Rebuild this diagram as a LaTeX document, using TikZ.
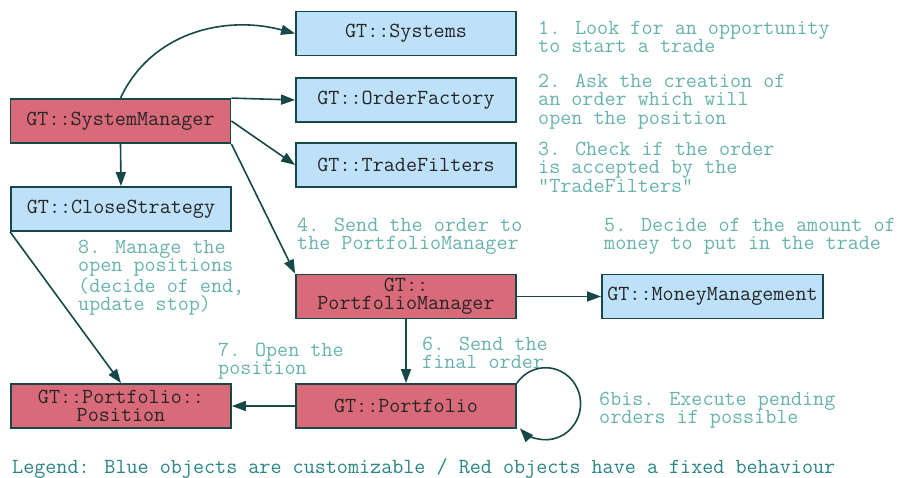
\documentclass[tikz,border=0pt]{standalone}
\usepackage{fontspec}
\usepackage{xcolor}
\usepackage{tikz}
\usetikzlibrary{arrows.meta}

\definecolor{fixedred}{HTML}{D96A7A}
\definecolor{custblue}{HTML}{BEE1FA}
\definecolor{edgeteal}{HTML}{164848}
\definecolor{noteteal}{HTML}{68B2AE}
\definecolor{legendteal}{HTML}{2A8484}

\tikzset{
  gtfont/.style={font=\ttfamily\fontsize{21.5}{18.3}\selectfont},
  gtbox/.style={gtfont,draw=edgeteal,line width=1.8pt,minimum width=220pt,minimum height=44pt,inner sep=0pt,align=center,text=black!85},
  redbox/.style={gtbox,fill=fixedred},
  bluebox/.style={gtbox,fill=custblue},
  note/.style={gtfont,text=noteteal,align=left,anchor=north west,inner sep=0pt},
  flow/.style={-{Triangle[length=14pt,width=10pt]},color=edgeteal,line width=1.6pt},
}

\begin{document}
\begin{tikzpicture}[x=1pt,y=1pt]
\useasboundingbox (0,0) rectangle (901,477);

\node[redbox] (sysmgr) at (120.5,356) {GT::SystemManager};
\node[bluebox] (systems) at (406,443.5) {GT::Systems};
\node[bluebox] (orderfac) at (406,377) {GT::OrderFactory};
\node[bluebox] (tradefil) at (406,312) {GT::TradeFilters};
\node[bluebox] (closestrat) at (121,268) {GT::CloseStrategy};
\node[redbox] (portmgr) at (406,180.5) {GT::\\PortfolioManager};
\node[bluebox,minimum width=221pt] (moneymgt) at (712.5,180.5) {GT::MoneyManagement};
\node[redbox] (portfolio) at (406,71) {GT::Portfolio};
\node[redbox] (position) at (121,71) {GT::Portfolio::\\Position};

\path[flow] (sysmgr.north) edge[out=65,in=165] (systems.west);
\path[flow] (sysmgr.north east) edge (orderfac.west);
\path[flow] (sysmgr.east) edge (tradefil.west);
\path[flow] (sysmgr.south) edge (closestrat.north);
\path[flow] (sysmgr.south east) edge (portmgr.north west);
\path[flow] (closestrat.south west) edge (position.north);
\path[flow] (portmgr.east) edge (moneymgt.west);
\path[flow] (portmgr.south) edge (portfolio.north);
\path[flow] (portfolio.west) edge (position.east);
\draw[flow] (portfolio.north east) arc[start angle=145,end angle=-137,x radius=35pt,y radius=36pt];

\node[note] (n1) at (538,456) {1. Look for an opportunity\\to start a trade};
\node[note] (n2) at (538,403) {2. Ask the creation of\\an order which will\\open the position};
\node[note] (n3) at (538,335) {3. Check if the order\\is accepted by the\\"TradeFilters"};
\node[note] (n4) at (297,259) {4. Send the order to\\the PortfolioManager};
\node[note] (n5) at (604,259) {5. Decide of the amount of\\money to put in the trade};
\node[note] (n6) at (422,140) {6. Send the\\final order};
\node[note] (n6bis) at (599,85) {6bis. Execute pending\\orders if possible};
\node[note] (n7) at (218,134) {7. Open the\\position};
\node[note] (n8) at (78,237) {8. Manage the\\open positions\\(decide of end,\\update stop)};

\node[note,text=legendteal] (legend) at (12,19) {Legend: Blue objects are customizable / Red objects have a fixed behaviour};
\end{tikzpicture}
\end{document}
